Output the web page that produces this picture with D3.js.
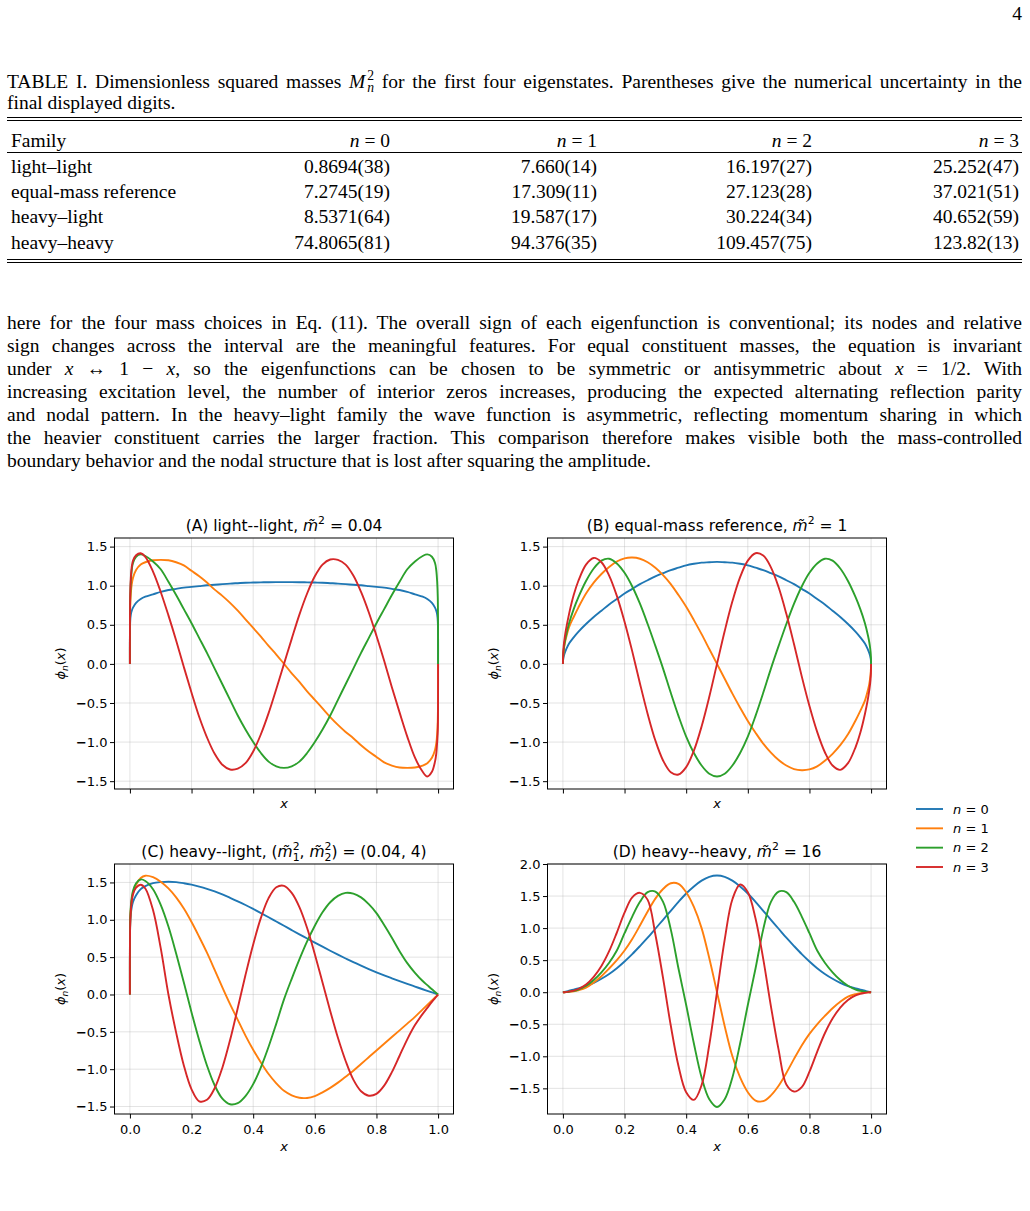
<!DOCTYPE html>
<html>
<head>
<meta charset="utf-8">
<script src="https://cdn.jsdelivr.net/npm/d3@7"></script>
<style>
  body { margin: 0; background: #fff; }
  #page { position: relative; width: 1030px; height: 1211px; overflow: hidden;
          font-family: "Liberation Serif", "DejaVu Serif", serif; font-size: 19.5px; color: #000; }
  .ln { position: absolute; left: 7px; width: 1015px; height: 23px; line-height: 23px;
        text-align: justify; text-align-last: justify; }
  .ln.last { text-align-last: left; }
  .ss { display: inline-flex; flex-direction: column; font-size: 0.7em; line-height: 0.9em;
        vertical-align: 8px; margin-left: 2px; }
  svg { position: absolute; left: 0; top: 0; }
  svg text { white-space: pre; }
</style>
</head>
<body>
<div id="page"></div>
<script>
// ---------- table data ----------
var families = ["light\u2013light", "equal-mass reference", "heavy\u2013light", "heavy\u2013heavy"];
var levels = [0, 1, 2, 3];
var massTable = [
  ["0.8694(38)", "7.660(14)", "16.197(27)", "25.252(47)"],
  ["7.2745(19)", "17.309(11)", "27.123(28)", "37.021(51)"],
  ["8.5371(64)", "19.587(17)", "30.224(34)", "40.652(59)"],
  ["74.8065(81)", "94.376(35)", "109.457(75)", "123.82(13)"]
];

// ---------- curve data (x grid shared by all curves) ----------
var xs = [0, 0.001, 0.003, 0.006, 0.01, 0.02, 0.035, 0.05, 0.075, 0.1, 0.125, 0.15, 0.175, 0.2, 0.225, 0.25,
  0.275, 0.3, 0.325, 0.35, 0.375, 0.4, 0.425, 0.45, 0.475, 0.5, 0.525, 0.55, 0.575, 0.6, 0.625, 0.65, 0.675,
  0.7, 0.725, 0.75, 0.775, 0.8, 0.825, 0.85, 0.875, 0.9, 0.925, 0.95, 0.965, 0.98, 0.99, 0.994, 0.997, 0.999, 1];

// (A) light--light
var llN0 = [0, 0.55, 0.63, 0.68, 0.72, 0.78, 0.83, 0.86, 0.89, 0.92, 0.945, 0.96, 0.975, 0.985, 0.995, 1.005,
  1.012, 1.02, 1.027, 1.032, 1.037, 1.04, 1.043, 1.045, 1.046, 1.046, 1.046, 1.045, 1.043, 1.04, 1.037, 1.032,
  1.027, 1.02, 1.012, 1.005, 0.995, 0.985, 0.975, 0.96, 0.945, 0.92, 0.89, 0.86, 0.83, 0.78, 0.72, 0.68, 0.63, 0.55, 0];
var llN1 = [0, 0.72, 0.9, 1.02, 1.1, 1.2, 1.27, 1.3, 1.325, 1.33, 1.325, 1.3, 1.26, 1.19, 1.12, 1.04, 0.95, 0.87,
  0.78, 0.68, 0.57, 0.46, 0.35, 0.23, 0.12, 0, -0.12, -0.23, -0.35, -0.46, -0.57, -0.68, -0.78, -0.87, -0.95,
  -1.04, -1.12, -1.19, -1.26, -1.3, -1.325, -1.33, -1.325, -1.3, -1.27, -1.2, -1.1, -1.02, -0.9, -0.72, 0];
var llN2 = [0, 0.85, 1.05, 1.2, 1.29, 1.37, 1.4, 1.38, 1.31, 1.21, 1.05, 0.88, 0.7, 0.52, 0.33, 0.14, -0.06,
  -0.26, -0.46, -0.66, -0.84, -1.0, -1.14, -1.25, -1.31, -1.33, -1.31, -1.25, -1.14, -1.0, -0.84, -0.66, -0.46,
  -0.26, -0.06, 0.14, 0.33, 0.52, 0.7, 0.88, 1.05, 1.21, 1.31, 1.38, 1.4, 1.37, 1.29, 1.2, 1.05, 0.85, 0];
var llN3 = [0, 0.9, 1.1, 1.24, 1.32, 1.39, 1.415, 1.37, 1.18, 0.92, 0.62, 0.3, -0.04, -0.37, -0.68, -0.94, -1.15,
  -1.29, -1.35, -1.34, -1.27, -1.12, -0.9, -0.63, -0.32, 0, 0.32, 0.63, 0.9, 1.12, 1.27, 1.335, 1.33, 1.27, 1.13,
  0.92, 0.66, 0.36, 0.04, -0.3, -0.62, -0.93, -1.2, -1.38, -1.44, -1.38, -1.25, -1.15, -1.0, -0.85, 0];

// (B) equal-mass reference
var emN0 = [0, 0.06, 0.1, 0.14, 0.18, 0.26, 0.34, 0.41, 0.51, 0.6, 0.68, 0.76, 0.83, 0.9, 0.96, 1.02, 1.07, 1.12,
  1.16, 1.2, 1.23, 1.26, 1.28, 1.295, 1.3, 1.305, 1.3, 1.295, 1.28, 1.26, 1.23, 1.2, 1.16, 1.12, 1.07, 1.02, 0.96,
  0.9, 0.83, 0.76, 0.68, 0.6, 0.51, 0.41, 0.34, 0.26, 0.18, 0.14, 0.1, 0.06, 0];
var emN1 = [0, 0.1, 0.18, 0.26, 0.33, 0.47, 0.6, 0.72, 0.9, 1.04, 1.15, 1.24, 1.31, 1.35, 1.36, 1.345, 1.3, 1.23,
  1.135, 1.02, 0.88, 0.73, 0.56, 0.38, 0.19, 0, -0.19, -0.38, -0.56, -0.73, -0.88, -1.02, -1.135, -1.23, -1.3,
  -1.345, -1.36, -1.35, -1.31, -1.24, -1.15, -1.04, -0.9, -0.72, -0.6, -0.47, -0.33, -0.26, -0.18, -0.1, 0];
var emN2 = [0, 0.12, 0.2, 0.28, 0.36, 0.52, 0.7, 0.85, 1.06, 1.22, 1.32, 1.345, 1.285, 1.165, 0.99, 0.77, 0.51,
  0.23, -0.06, -0.37, -0.665, -0.93, -1.14, -1.3, -1.405, -1.44, -1.405, -1.3, -1.14, -0.93, -0.665, -0.37, -0.06,
  0.23, 0.51, 0.77, 0.99, 1.165, 1.285, 1.345, 1.32, 1.22, 1.06, 0.85, 0.7, 0.52, 0.36, 0.28, 0.2, 0.12, 0];
var emN3 = [0, 0.15, 0.25, 0.34, 0.44, 0.64, 0.88, 1.06, 1.27, 1.355, 1.3, 1.13, 0.87, 0.54, 0.16, -0.25, -0.64,
  -0.98, -1.235, -1.385, -1.415, -1.32, -1.11, -0.8, -0.42, 0, 0.42, 0.8, 1.11, 1.32, 1.415, 1.385, 1.235, 0.98,
  0.64, 0.25, -0.16, -0.54, -0.87, -1.13, -1.3, -1.355, -1.27, -1.06, -0.88, -0.64, -0.44, -0.34, -0.25, -0.15, 0];

// (C) heavy--light
var hlN0 = [0, 0.95, 1.08, 1.17, 1.24, 1.33, 1.41, 1.45, 1.49, 1.505, 1.51, 1.505, 1.49, 1.47, 1.445, 1.415, 1.38,
  1.34, 1.295, 1.248, 1.198, 1.145, 1.09, 1.034, 0.977, 0.92, 0.862, 0.805, 0.75, 0.695, 0.64, 0.586, 0.533, 0.482,
  0.432, 0.385, 0.34, 0.297, 0.256, 0.217, 0.179, 0.142, 0.106, 0.07, 0.049, 0.028, 0.014, 0.0085, 0.004, 0.0014, 0];
var hlN1 = [0, 1.0, 1.15, 1.27, 1.36, 1.47, 1.56, 1.59, 1.57, 1.51, 1.42, 1.3, 1.15, 0.97, 0.77, 0.56, 0.33, 0.095,
  -0.13, -0.34, -0.55, -0.74, -0.91, -1.065, -1.19, -1.29, -1.35, -1.383, -1.385, -1.36, -1.31, -1.25, -1.18, -1.1,
  -1.02, -0.93, -0.84, -0.75, -0.66, -0.57, -0.48, -0.39, -0.3, -0.2, -0.14, -0.08, -0.04, -0.025, -0.012, -0.004, 0];
var hlN2 = [0, 1.0, 1.18, 1.3, 1.39, 1.49, 1.54, 1.52, 1.41, 1.2, 0.91, 0.55, 0.16, -0.24, -0.615, -0.95, -1.215,
  -1.395, -1.47, -1.455, -1.36, -1.2, -0.975, -0.7, -0.39, -0.066, 0.21, 0.47, 0.71, 0.92, 1.1, 1.235, 1.32, 1.36,
  1.35, 1.3, 1.21, 1.09, 0.93, 0.76, 0.58, 0.42, 0.29, 0.18, 0.125, 0.07, 0.035, 0.02, 0.01, 0.003, 0];
var hlN3 = [0, 0.95, 1.12, 1.25, 1.34, 1.43, 1.47, 1.42, 1.13, 0.62, 0, -0.51, -0.95, -1.27, -1.43, -1.41, -1.255,
  -0.98, -0.61, -0.18, 0.26, 0.67, 1.025, 1.29, 1.435, 1.455, 1.36, 1.17, 0.89, 0.54, 0.16, -0.22, -0.58, -0.89,
  -1.14, -1.295, -1.355, -1.33, -1.22, -1.04, -0.82, -0.6, -0.41, -0.26, -0.18, -0.1, -0.05, -0.03, -0.015, -0.005, 0];

// (D) heavy--heavy
var hhN0 = [0, 0.001, 0.003, 0.006, 0.01, 0.022, 0.04, 0.058, 0.095, 0.145, 0.21, 0.285, 0.375, 0.48, 0.595, 0.72,
  0.85, 0.99, 1.13, 1.27, 1.41, 1.54, 1.65, 1.74, 1.8, 1.82, 1.8, 1.74, 1.65, 1.54, 1.41, 1.27, 1.13, 0.99, 0.85,
  0.72, 0.595, 0.48, 0.375, 0.285, 0.21, 0.145, 0.095, 0.058, 0.04, 0.022, 0.01, 0.006, 0.003, 0.001, 0];
var hhN1 = [0, 0, 0, 0, 0.002, 0.007, 0.015, 0.03, 0.07, 0.15, 0.25, 0.37, 0.5, 0.65, 0.83, 1.04, 1.26, 1.46, 1.61,
  1.7, 1.69, 1.56, 1.33, 1.0, 0.53, 0, -0.53, -1.0, -1.33, -1.56, -1.69, -1.7, -1.61, -1.46, -1.26, -1.04, -0.83,
  -0.65, -0.5, -0.37, -0.25, -0.15, -0.07, -0.03, -0.015, -0.007, -0.002, 0, 0, 0, 0];
var hhN2 = [0, 0, 0, 0, 0.002, 0.008, 0.02, 0.04, 0.1, 0.19, 0.31, 0.46, 0.65, 0.92, 1.18, 1.41, 1.56, 1.57, 1.41,
  0.98, 0.37, -0.2, -0.8, -1.33, -1.67, -1.79, -1.67, -1.33, -0.8, -0.2, 0.37, 0.98, 1.41, 1.57, 1.56, 1.41, 1.18,
  0.92, 0.65, 0.46, 0.31, 0.19, 0.1, 0.04, 0.02, 0.008, 0.002, 0, 0, 0, 0];
var hhN3 = [0, 0, 0, 0, 0.002, 0.01, 0.025, 0.05, 0.12, 0.24, 0.41, 0.64, 0.93, 1.24, 1.48, 1.55, 1.44, 0.9, 0.22,
  -0.52, -1.15, -1.56, -1.68, -1.45, -0.82, 0, 0.82, 1.45, 1.68, 1.56, 1.15, 0.52, -0.22, -0.9, -1.44, -1.55, -1.48,
  -1.24, -0.93, -0.64, -0.41, -0.24, -0.12, -0.05, -0.025, -0.01, -0.002, 0, 0, 0, 0];

// ticks
var xTicks = [0, 0.2, 0.4, 0.6, 0.8, 1.0];
var yTicks = [-1.5, -1.0, -0.5, 0, 0.5, 1.0, 1.5];
var yTicksD = [-1.5, -1.0, -0.5, 0, 0.5, 1.0, 1.5, 2.0];
var seriesColors = ["#1f77b4", "#ff7f0e", "#2ca02c", "#d62728"];

// ---------- text ----------
var captionLines = [
  'TABLE I. Dimensionless squared masses <i>M</i><span class="ss"><span>2</span><span><i>n</i></span></span> for the first four eigenstates. Parentheses give the numerical uncertainty in the',
  'final displayed digits.'
];
var bodyLines = [
  'here for the four mass choices in Eq. (11). The overall sign of each eigenfunction is conventional; its nodes and relative',
  'sign changes across the interval are the meaningful features. For equal constituent masses, the equation is invariant',
  'under <i>x</i> \u2194 1 \u2212 <i>x</i>, so the eigenfunctions can be chosen to be symmetric or antisymmetric about <i>x</i> = 1/2. With',
  'increasing excitation level, the number of interior zeros increases, producing the expected alternating reflection parity',
  'and nodal pattern. In the heavy\u2013light family the wave function is asymmetric, reflecting momentum sharing in which',
  'the heavier constituent carries the larger fraction. This comparison therefore makes visible both the mass-controlled',
  'boundary behavior and the nodal structure that is lost after squaring the amplitude.'
];

var page = d3.select("#page");

var lines = page.selectAll("div.ln")
  .data(captionLines.map(function (d, i) { return { html: d, base: 88 + 21 * i, last: i === captionLines.length - 1 }; })
    .concat(bodyLines.map(function (d, i) { return { html: d, base: 329 + 23 * i, last: i === bodyLines.length - 1 }; })))
  .join("div")
  .attr("class", function (d) { return d.last ? "ln last" : "ln"; })
  .html(function (d) { return d.html; });

// shrink the serif size only if a line would not fit in the text width
var serifSize = 19.5;
var widest = 0;
lines.each(function () {
  var s = this.style;
  s.width = "auto"; s.whiteSpace = "nowrap"; s.display = "inline-block";
  widest = Math.max(widest, this.getBoundingClientRect().width);
  s.width = ""; s.whiteSpace = ""; s.display = "";
});
if (widest > 1008) serifSize = serifSize * 1008 / widest;
page.style("font-size", serifSize + "px");
lines.style("top", function (d) { return (d.base - (11.5 + 0.3375 * serifSize)) + "px"; });

page.append("div")
  .style("position", "absolute").style("right", "8px")
  .style("top", (20 - (11.5 + 0.3375 * serifSize)) + "px")
  .style("line-height", "23px")
  .text("4");

var svg = page.append("svg").attr("width", 1030).attr("height", 1211);

// ---------- table ----------
var colX = d3.scaleOrdinal().domain(levels).range([390, 597, 812, 1019]);
var rowY = d3.scalePoint().domain(families).range([172.5, 248.5]);

var tbl = svg.append("g")
  .attr("font-family", '"Liberation Serif", "DejaVu Serif", serif')
  .attr("font-size", serifSize);

tbl.selectAll("line.rule").data([117.5, 120.5, 152.5, 259.5, 262.5]).join("line")
  .attr("class", "rule")
  .attr("x1", 7).attr("x2", 1022)
  .attr("y1", function (d) { return d; }).attr("y2", function (d) { return d; })
  .attr("stroke", "#000").attr("stroke-width", 1.1);

tbl.append("text").attr("x", 11).attr("y", 146.5).text("Family");
var hdr = tbl.selectAll("text.hdr").data(levels).join("text")
  .attr("class", "hdr")
  .attr("x", function (d) { return colX(d); })
  .attr("y", 146.5)
  .attr("text-anchor", "end");
hdr.append("tspan").attr("font-style", "italic").text("n");
hdr.append("tspan").text(function (d) { return " = " + d; });

families.forEach(function (f, i) {
  tbl.append("text").attr("x", 11).attr("y", rowY(f)).text(f);
  tbl.selectAll(null).data(massTable[i]).join("text")
    .attr("x", function (d, j) { return colX(levels[j]); })
    .attr("y", rowY(f))
    .attr("text-anchor", "end")
    .text(function (d) { return d; });
});

// ---------- figure ----------
var sans = '"DejaVu Sans", sans-serif';
var fs = 13;

// small mathtext-like renderer: parts of {t, it, sup, sub, back}
function renderMath(text, parts, size) {
  var shift = 0;
  parts.forEach(function (p) {
    var sp = text.append("tspan").text(p.t);
    var target = 0;
    if (p.it) sp.attr("font-style", "italic");
    if (p.sup) target = 0.42;
    if (p.sub) target = p.back ? -0.3 : -0.22;
    if (p.sup || p.sub) sp.attr("font-size", size * 0.7);
    if (p.back) sp.attr("dx", -0.636 * 0.7 * size);
    var dy = (shift - target) * size;
    if (dy !== 0) sp.attr("dy", dy);
    shift = target;
  });
}

var mt = "m\u0303";
var panels = [
  { id: "A", left: 114.5, top: 538, width: 339, height: 251, ylim: [-1.6, 1.61], yticks: yTicks,
    xLabels: false, series: [llN0, llN1, llN2, llN3],
    title: [{ t: "(A) light--light, " }, { t: mt, it: true }, { t: "2", sup: true }, { t: " = 0.04" }] },
  { id: "B", left: 547.5, top: 538, width: 339, height: 251, ylim: [-1.6, 1.61], yticks: yTicks,
    xLabels: false, series: [emN0, emN1, emN2, emN3],
    title: [{ t: "(B) equal-mass reference, " }, { t: mt, it: true }, { t: "2", sup: true }, { t: " = 1" }] },
  { id: "C", left: 114.5, top: 864, width: 339, height: 250, ylim: [-1.6, 1.747], yticks: yTicks,
    xLabels: true, series: [hlN0, hlN1, hlN2, hlN3],
    title: [{ t: "(C) heavy--light, (" }, { t: mt, it: true }, { t: "2", sup: true }, { t: "1", sub: true, back: true },
            { t: ", " }, { t: mt, it: true }, { t: "2", sup: true }, { t: "2", sub: true, back: true },
            { t: ") = (0.04, 4)" }] },
  { id: "D", left: 547.5, top: 864, width: 339, height: 250, ylim: [-1.9, 2.0], yticks: yTicksD,
    xLabels: true, series: [hhN0, hhN1, hhN2, hhN3],
    title: [{ t: "(D) heavy--heavy, " }, { t: mt, it: true }, { t: "2", sup: true }, { t: " = 16" }] }
];

function boldMinus(sel) {
  sel.each(function () {
    var t = d3.select(this), s = t.text();
    if (s.charAt(0) === "\u2212") {
      t.text("");
      t.append("tspan").attr("font-weight", "bold").text("\u2212");
      t.append("tspan").text(s.slice(1));
    }
  });
}

panels.forEach(function (p) {
  var g = svg.append("g").attr("font-family", sans);
  var x = d3.scaleLinear().domain([-0.05, 1.05]).range([p.left, p.left + p.width]);
  var y = d3.scaleLinear().domain(p.ylim).range([p.top + p.height, p.top]);

  // grid
  var grid = g.append("g").attr("stroke", "#b0b0b0").attr("stroke-opacity", 0.35).attr("stroke-width", 1);
  grid.selectAll("line.gx").data(xTicks).join("line")
    .attr("x1", function (d) { return x(d); }).attr("x2", function (d) { return x(d); })
    .attr("y1", p.top).attr("y2", p.top + p.height);
  grid.selectAll("line.gy").data(p.yticks).join("line")
    .attr("class", "gy")
    .attr("x1", p.left).attr("x2", p.left + p.width)
    .attr("y1", function (d) { return y(d); }).attr("y2", function (d) { return y(d); });

  // curves
  g.append("clipPath").attr("id", "clip" + p.id)
    .append("rect").attr("x", p.left).attr("y", p.top).attr("width", p.width).attr("height", p.height);
  var line = d3.line()
    .x(function (d, i) { return x(xs[i]); })
    .y(function (d) { return y(d); })
    .curve(d3.curveCatmullRom.alpha(0.5));
  g.append("g").attr("clip-path", "url(#clip" + p.id + ")")
    .selectAll("path").data(p.series).join("path")
    .attr("d", line)
    .attr("fill", "none")
    .attr("stroke", function (d, i) { return seriesColors[i]; })
    .attr("stroke-width", 1.9);

  // spines
  g.append("rect").attr("x", p.left).attr("y", p.top).attr("width", p.width).attr("height", p.height)
    .attr("fill", "none").attr("stroke", "#000").attr("stroke-width", 1);

  // axes
  var xAxis = d3.axisBottom(x).tickValues(xTicks).tickSizeOuter(0).tickSize(4.5).tickPadding(6)
    .tickFormat(p.xLabels ? d3.format(".1f") : function () { return ""; });
  var gx = g.append("g").attr("transform", "translate(0," + (p.top + p.height) + ")").call(xAxis);
  gx.attr("font-family", sans).attr("font-size", fs);
  gx.select(".domain").remove();
  gx.selectAll("line").attr("stroke", "#000");
  gx.selectAll("text").attr("fill", "#000");

  var yAxis = d3.axisLeft(y).tickValues(p.yticks).tickSizeOuter(0).tickSize(4.5).tickPadding(2.5)
    .tickFormat(d3.format(".1f"));
  var gy = g.append("g").attr("transform", "translate(" + p.left + ",0)").call(yAxis);
  gy.attr("font-family", sans).attr("font-size", fs);
  gy.select(".domain").remove();
  gy.selectAll("line").attr("stroke", "#000");
  gy.selectAll("text").attr("fill", "#000").call(boldMinus);

  // title
  var title = g.append("text")
    .attr("x", p.left + p.width / 2).attr("y", p.top - 7.5)
    .attr("text-anchor", "middle").attr("font-size", 15.5);
  renderMath(title, p.title, 15.5);

  // x label
  g.append("text")
    .attr("x", p.left + p.width / 2)
    .attr("y", p.top + p.height + (p.xLabels ? 36.5 : 18.5))
    .attr("text-anchor", "middle").attr("font-size", fs).attr("font-style", "italic")
    .text("x");

  // y label
  var yl = g.append("text")
    .attr("transform", "translate(" + (p.left - 49.5) + "," + (p.top + p.height / 2) + ") rotate(-90)")
    .attr("text-anchor", "middle").attr("font-size", fs);
  renderMath(yl, [{ t: "\u03d5", it: true }, { t: "n", it: true, sub: true }, { t: "(" }, { t: "x", it: true }, { t: ")" }], fs);
});

// legend
var legY = d3.scalePoint().domain(levels).range([809, 867]);
var leg = svg.append("g").attr("font-family", sans).attr("font-size", fs);
var items = leg.selectAll("g").data(levels).join("g")
  .attr("transform", function (d) { return "translate(916," + legY(d) + ")"; });
items.append("line").attr("x1", 0).attr("x2", 27)
  .attr("stroke", function (d) { return seriesColors[d]; }).attr("stroke-width", 1.9);
var lt = items.append("text").attr("x", 37).attr("y", 4.6);
lt.append("tspan").attr("font-style", "italic").text("n");
lt.append("tspan").text(function (d) { return " = " + d; });
</script>
</body>
</html>
